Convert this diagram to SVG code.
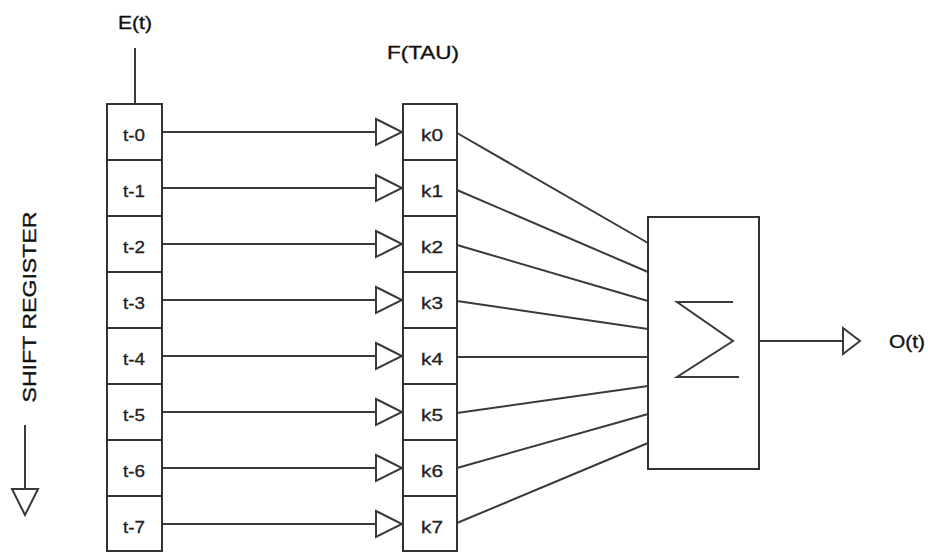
<svg xmlns="http://www.w3.org/2000/svg" width="928" height="553" viewBox="0 0 928 553">
<defs>
<style>
.box{fill:#fff;stroke:#333;stroke-width:2}
.ln{fill:none;stroke:#3a3a3a;stroke-width:2}
.cl{font-family:"Liberation Sans",Arial,sans-serif;font-size:17px;fill:#222;stroke:#222;stroke-width:0.3;text-anchor:middle}
.lb{font-family:"Liberation Sans",Arial,sans-serif;font-size:19px;fill:#111;stroke:#111;stroke-width:0.35;text-anchor:middle}
</style>
<marker id="ah" markerUnits="userSpaceOnUse" markerWidth="30" markerHeight="30" refX="27" refY="14" orient="auto" overflow="visible">
<path d="M1,1 L27,14 L1,27 Z" fill="#fff" stroke="#3a3a3a" stroke-width="2"/>
</marker>
<marker id="ah2" markerUnits="userSpaceOnUse" markerWidth="22" markerHeight="30" refX="18" refY="14" orient="auto" overflow="visible">
<path d="M1,1 L18,14 L1,27 Z" fill="#fff" stroke="#3a3a3a" stroke-width="2"/>
</marker>
</defs>
<rect width="928" height="553" fill="#fff"/>

<g id="connectors">
<line class="ln" x1="135" y1="48" x2="135" y2="104"/>
<line class="ln" x1="162" y1="132" x2="402" y2="132" marker-end="url(#ah)"/>
<line class="ln" x1="162" y1="188" x2="402" y2="188" marker-end="url(#ah)"/>
<line class="ln" x1="162" y1="244" x2="402" y2="244" marker-end="url(#ah)"/>
<line class="ln" x1="162" y1="300" x2="402" y2="300" marker-end="url(#ah)"/>
<line class="ln" x1="162" y1="356" x2="402" y2="356" marker-end="url(#ah)"/>
<line class="ln" x1="162" y1="412" x2="402" y2="412" marker-end="url(#ah)"/>
<line class="ln" x1="162" y1="468" x2="402" y2="468" marker-end="url(#ah)"/>
<line class="ln" x1="162" y1="524" x2="402" y2="524" marker-end="url(#ah)"/>
<line class="ln" x1="457" y1="133" x2="648" y2="243"/>
<line class="ln" x1="457" y1="190" x2="648" y2="272"/>
<line class="ln" x1="457" y1="245" x2="648" y2="301"/>
<line class="ln" x1="457" y1="301" x2="648" y2="329"/>
<line class="ln" x1="457" y1="357" x2="648" y2="357"/>
<line class="ln" x1="457" y1="413" x2="648" y2="386"/>
<line class="ln" x1="457" y1="468" x2="648" y2="414"/>
<line class="ln" x1="457" y1="523" x2="648" y2="443"/>
<line class="ln" x1="759" y1="341" x2="860" y2="341" marker-end="url(#ah2)"/>
<line class="ln" x1="25" y1="425" x2="25" y2="515" marker-end="url(#ah)"/>
</g>

<g id="shift-register">
<rect class="box" x="107" y="104" width="55" height="56"/><text class="cl" x="134" y="141" textLength="22" lengthAdjust="spacingAndGlyphs">t-0</text>
<rect class="box" x="107" y="160" width="55" height="56"/><text class="cl" x="134" y="197" textLength="22" lengthAdjust="spacingAndGlyphs">t-1</text>
<rect class="box" x="107" y="216" width="55" height="56"/><text class="cl" x="134" y="253" textLength="22" lengthAdjust="spacingAndGlyphs">t-2</text>
<rect class="box" x="107" y="272" width="55" height="56"/><text class="cl" x="134" y="309" textLength="22" lengthAdjust="spacingAndGlyphs">t-3</text>
<rect class="box" x="107" y="328" width="55" height="56"/><text class="cl" x="134" y="365" textLength="22" lengthAdjust="spacingAndGlyphs">t-4</text>
<rect class="box" x="107" y="384" width="55" height="56"/><text class="cl" x="134" y="421" textLength="22" lengthAdjust="spacingAndGlyphs">t-5</text>
<rect class="box" x="107" y="440" width="55" height="56"/><text class="cl" x="134" y="477" textLength="22" lengthAdjust="spacingAndGlyphs">t-6</text>
<rect class="box" x="107" y="496" width="55" height="55"/><text class="cl" x="134" y="533" textLength="22" lengthAdjust="spacingAndGlyphs">t-7</text>
</g>

<g id="weights">
<rect class="box" x="403" y="104" width="54" height="56"/><text class="cl" x="432" y="141" textLength="22" lengthAdjust="spacingAndGlyphs">k0</text>
<rect class="box" x="403" y="160" width="54" height="56"/><text class="cl" x="432" y="197" textLength="22" lengthAdjust="spacingAndGlyphs">k1</text>
<rect class="box" x="403" y="216" width="54" height="56"/><text class="cl" x="432" y="253" textLength="22" lengthAdjust="spacingAndGlyphs">k2</text>
<rect class="box" x="403" y="272" width="54" height="56"/><text class="cl" x="432" y="309" textLength="22" lengthAdjust="spacingAndGlyphs">k3</text>
<rect class="box" x="403" y="328" width="54" height="56"/><text class="cl" x="432" y="365" textLength="22" lengthAdjust="spacingAndGlyphs">k4</text>
<rect class="box" x="403" y="384" width="54" height="56"/><text class="cl" x="432" y="421" textLength="22" lengthAdjust="spacingAndGlyphs">k5</text>
<rect class="box" x="403" y="440" width="54" height="56"/><text class="cl" x="432" y="477" textLength="22" lengthAdjust="spacingAndGlyphs">k6</text>
<rect class="box" x="403" y="496" width="54" height="55"/><text class="cl" x="432" y="533" textLength="22" lengthAdjust="spacingAndGlyphs">k7</text>
</g>

<g id="sum">
<rect class="box" x="648" y="217" width="111" height="252"/>
<polyline class="ln" points="733,302 677,302 733,341 677,377 739,377"/>
</g>

<g id="labels">
<text class="lb" x="135" y="29" textLength="34" lengthAdjust="spacingAndGlyphs">E(t)</text>
<text class="lb" x="423" y="59" textLength="72" lengthAdjust="spacingAndGlyphs">F(TAU)</text>
<text class="lb" x="907" y="348" textLength="36" lengthAdjust="spacingAndGlyphs">O(t)</text>
<text class="lb" x="36" y="307" font-size="22" textLength="191" lengthAdjust="spacingAndGlyphs" transform="rotate(-90 36 307)">SHIFT REGISTER</text>
</g>
</svg>
